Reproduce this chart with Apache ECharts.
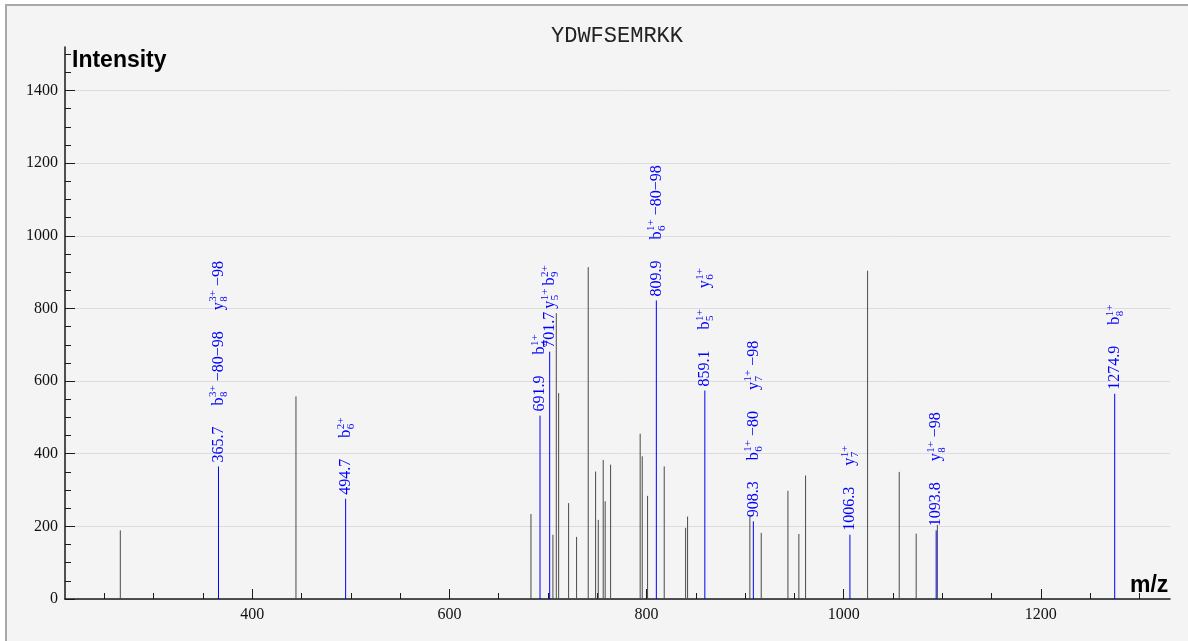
<!DOCTYPE html>
<html>
<head>
<meta charset="utf-8">
<script src="https://cdn.jsdelivr.net/npm/echarts@6/dist/echarts.min.js"></script>
<style>
  html, body { margin: 0; padding: 0; background: #ffffff; width: 1188px; height: 641px; overflow: hidden; }
  #frame { position: absolute; left: 5px; top: 4px; width: 1400px; height: 800px;
           border: 2px solid #a9a9a9; background: #f4f4f4; box-sizing: border-box; }
  #chart { position: absolute; left: 0; top: 0; width: 1188px; height: 641px; }
</style>
</head>
<body>
<div id="frame"></div>
<div id="chart"></div>
<script>
// ---------------- data ----------------
const peptide = 'YDWFSEMRKK';

// unannotated (gray) peaks
const grayMz  = [266.1, 444.3, 682.7, 705.0, 708.4, 710.8, 720.9, 729.0, 740.8, 748.3,
                 751.0, 756.0, 758.0, 763.5, 793.5, 795.6, 801.0, 817.9, 839.6, 841.6,
                 904.8, 916.3, 943.4, 954.5, 961.3, 1024.2, 1056.3, 1073.5, 1095.0];
const grayInt = [189, 558, 234, 177, 787, 567, 264, 171, 914, 351,
                 218, 383, 269, 370, 455, 393, 284, 365, 196, 227,
                 227, 182, 298, 179, 340, 904, 350, 180, 204];

// annotated (blue) peaks
const blueMz  = [365.7, 494.7, 691.9, 701.7, 809.9, 859.1, 908.3, 1006.3, 1093.8, 1274.9];
const blueInt = [365, 276, 505, 681, 822, 574, 214, 177, 189, 565];
// ion|subscript|superscript|suffix ; several annotations per peak separated by ';'
const blueLabels = [
  'b|8|3+|−80−98;y|8|3+|−98',
  'b|6|2+|',
  'b|4|1+|',
  'y|5|1+|;b|9|2+|',
  'b|6|1+|−80−98',
  'b|5|1+|;y|6|1+|',
  'b|6|1+|−80;y|7|1+|−98',
  'y|7|1+|',
  'y|8|1+|−98',
  'b|8|1+|'
];

// axis ticks
const xTickLabels = [400, 600, 800, 1000, 1200];
const yTickLabels = [0, 200, 400, 600, 800, 1000, 1200, 1400];
const xMinorTicks = []; for (let v = 250; v <= 1300; v += 50) xMinorTicks.push(v);
const yMinorTicks = []; for (let v = 0; v <= 1500; v += 50) yMinorTicks.push(v);

// ---------------- styles ----------------
const SERIF = '"Liberation Serif", "Times New Roman", serif';
const BLUE = '#0000ff';
const GRAY = '#4a4a4a';
const MAIN_SIZE = 16, SMALL_SIZE = 11;
const FIRST_OFFSET = 4, GAP = 21;
const tightGap = { '701.7': 3 };

const mctx = document.createElement('canvas').getContext('2d');
function tw(text, size) { mctx.font = size + 'px ' + SERIF; return mctx.measureText(text).width; }

function buildLabel(mz, labelStr) {
  const children = [];
  const valueText = mz.toFixed(1);
  let cx = FIRST_OFFSET;
  children.push({ type: 'text', x: cx, y: 0, style: { text: valueText, font: MAIN_SIZE + 'px ' + SERIF, fill: BLUE, align: 'left', verticalAlign: 'middle' } });
  cx += tw(valueText, MAIN_SIZE);
  const gap = tightGap[valueText] != null ? tightGap[valueText] : GAP;
  labelStr.split(';').forEach(function (ann) {
    const parts = ann.split('|');
    cx += gap;
    children.push({ type: 'text', x: cx, y: 0, style: { text: parts[0], font: MAIN_SIZE + 'px ' + SERIF, fill: BLUE, align: 'left', verticalAlign: 'middle' } });
    cx += tw(parts[0], MAIN_SIZE) + 0.5;
    children.push({ type: 'text', x: cx, y: -5, style: { text: parts[2], font: SMALL_SIZE + 'px ' + SERIF, fill: BLUE, align: 'left', verticalAlign: 'middle' } });
    children.push({ type: 'text', x: cx, y: 5.5, style: { text: parts[1], font: SMALL_SIZE + 'px ' + SERIF, fill: BLUE, align: 'left', verticalAlign: 'middle' } });
    cx += Math.max(tw(parts[1], SMALL_SIZE), tw(parts[2], SMALL_SIZE));
    if (parts[3]) {
      cx += 4;
      children.push({ type: 'text', x: cx, y: 0, style: { text: parts[3], font: MAIN_SIZE + 'px ' + SERIF, fill: BLUE, align: 'left', verticalAlign: 'middle' } });
      cx += tw(parts[3], MAIN_SIZE);
    }
  });
  return children;
}

const grayData = grayMz.map(function (m, i) { return [m, grayInt[i]]; });
const blueData = blueMz.map(function (m, i) { return [m, blueInt[i], i]; });

const axisText = { fontFamily: SERIF, fontSize: 16, color: '#111111', formatter: function (v) { return String(v); } };

const option = {
  animation: false,
  backgroundColor: 'transparent',
  grid: { left: 65, top: 47, width: 1105, height: 552, containLabel: false },
  xAxis: [
    {
      type: 'value', min: 210, max: 1331, position: 'bottom',
      axisLine: { show: true, onZero: false, lineStyle: { color: '#1a1a1a', width: 1.5 } },
      axisTick: { show: true, inside: true, length: 10, customValues: xTickLabels, lineStyle: { color: '#1a1a1a', width: 1 } },
      axisLabel: Object.assign({ show: true, margin: 8, customValues: xTickLabels }, axisText),
      splitLine: { show: false }, minorTick: { show: false }
    },
    {
      type: 'value', min: 210, max: 1331, position: 'bottom',
      axisLine: { show: false },
      axisTick: { show: true, inside: true, length: 6, customValues: xMinorTicks, lineStyle: { color: '#1a1a1a', width: 1 } },
      axisLabel: { show: false }, splitLine: { show: false }
    }
  ],
  yAxis: [
    {
      type: 'value', min: 0, max: 1520, position: 'left',
      axisLine: { show: true, onZero: false, lineStyle: { color: '#1a1a1a', width: 1.5 } },
      axisTick: { show: true, inside: true, length: 10, customValues: yTickLabels, lineStyle: { color: '#1a1a1a', width: 1 } },
      axisLabel: Object.assign({ show: true, margin: 7, customValues: yTickLabels }, axisText),
      splitLine: { show: true, lineStyle: { color: '#dcdcdc', width: 1 } }
    },
    {
      type: 'value', min: 0, max: 1520, position: 'left',
      axisLine: { show: false },
      axisTick: { show: true, inside: true, length: 6, customValues: yMinorTicks, lineStyle: { color: '#1a1a1a', width: 1 } },
      axisLabel: { show: false }, splitLine: { show: false }
    }
  ],
  graphic: [
    { type: 'text', left: 617 - 66, top: 25, style: { text: peptide, font: '22px "Liberation Mono", "Courier New", monospace', fill: '#222' } },
    { type: 'text', left: 72, top: 49, style: { text: 'Intensity', font: 'bold 23px "Liberation Sans", Arial, sans-serif', fill: '#000' } },
    { type: 'text', left: 1130, top: 574, style: { text: 'm/z', font: 'bold 23px "Liberation Sans", Arial, sans-serif', fill: '#000' } }
  ],
  series: [
    {
      type: 'custom', name: 'unassigned', xAxisIndex: 0, yAxisIndex: 0,
      encode: { x: 0, y: 1 }, data: grayData, silent: true,
      renderItem: function (params, api) {
        const p0 = api.coord([api.value(0), 0]);
        const p1 = api.coord([api.value(0), api.value(1)]);
        return { type: 'line', shape: { x1: p0[0], y1: p0[1], x2: p1[0], y2: p1[1] }, style: { stroke: GRAY, lineWidth: 1 } };
      }
    },
    {
      type: 'custom', name: 'assigned', xAxisIndex: 0, yAxisIndex: 0,
      encode: { x: 0, y: 1 }, data: blueData, silent: true, z: 5,
      renderItem: function (params, api) {
        const mz = api.value(0);
        const idx = api.value(2);
        const p0 = api.coord([mz, 0]);
        const p1 = api.coord([mz, api.value(1)]);
        return {
          type: 'group',
          children: [
            { type: 'line', shape: { x1: p0[0], y1: p0[1], x2: p1[0], y2: p1[1] }, style: { stroke: BLUE, lineWidth: 1 } },
            { type: 'group', x: p1[0], y: p1[1], rotation: Math.PI / 2, children: buildLabel(blueMz[idx], blueLabels[idx]) }
          ]
        };
      }
    }
  ]
};

const chart = echarts.init(document.getElementById('chart'), null, { renderer: 'canvas' });
chart.setOption(option);
</script>
</body>
</html>
